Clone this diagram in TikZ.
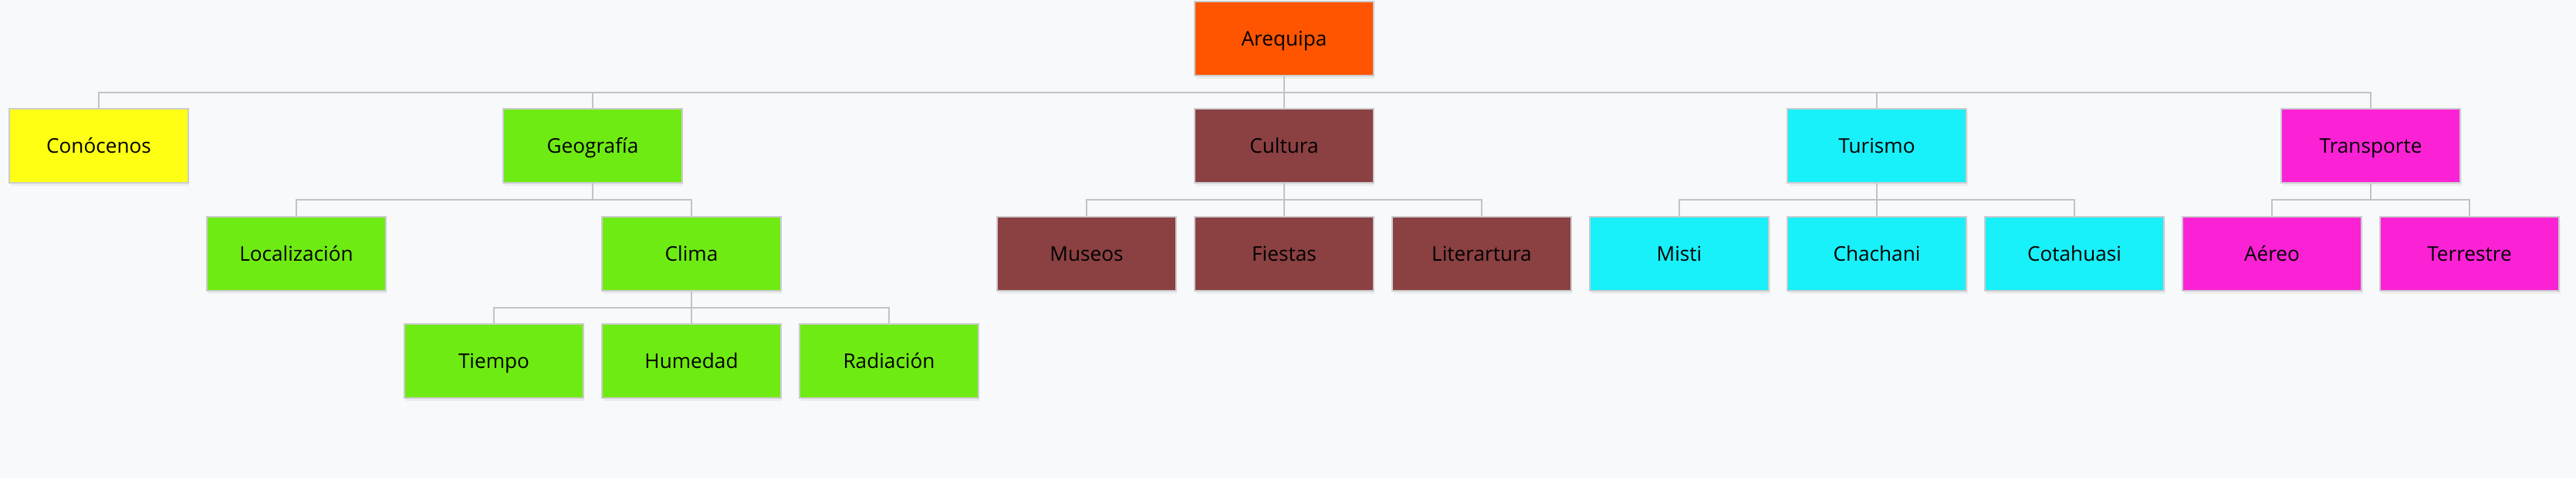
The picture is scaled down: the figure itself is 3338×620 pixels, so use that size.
\documentclass[tikz,border=0pt]{standalone}
\usepackage{fontspec}
\setmainfont{Open Sans}
\usetikzlibrary{shadows}

\definecolor{fondo}{HTML}{F8F9FB}
\definecolor{borde}{HTML}{CCCCCE}
\definecolor{linea}{HTML}{C2C3C6}
\definecolor{naranja}{HTML}{FF5500}
\definecolor{amarillo}{HTML}{FFFF14}
\definecolor{verde}{HTML}{6FEB14}
\definecolor{marron}{HTML}{8B4042}
\definecolor{celeste}{HTML}{18F0FA}
\definecolor{magenta}{HTML}{FB22D6}

\tikzset{
  box/.style={draw=borde, line width=0.04cm, minimum width=4.64cm, minimum height=1.92cm,
    inner sep=0pt, text height=2.4ex, text depth=0.4ex, font=\fontsize{14.9}{17}\selectfont,
    drop shadow={opacity=0.10, shadow xshift=0.03cm, shadow yshift=-0.08cm}},
  link/.style={draw=linea, line width=0.035cm},
}

\begin{document}
\begin{tikzpicture}[x=0.02cm, y=-0.02cm]

\fill [fondo] (0,0) rectangle (3338,620) ;
\useasboundingbox (0,0) rectangle (3338,620) ;

\node [box, fill=naranja] (arequipa) at (1664,50) {Arequipa} ;

\node [box, fill=amarillo] (conocenos) at (128,189) {Conócenos} ;
\node [box, fill=verde] (geografia) at (768,189) {Geografía} ;
\node [box, fill=marron] (cultura) at (1664,189) {Cultura} ;
\node [box, fill=celeste] (turismo) at (2432,189) {Turismo} ;
\node [box, fill=magenta] (transporte) at (3072,189) {Transporte} ;

\node [box, fill=verde] (localizacion) at (384,329) {Localización} ;
\node [box, fill=verde] (clima) at (896,329) {Clima} ;
\node [box, fill=marron] (museos) at (1408,329) {Museos} ;
\node [box, fill=marron] (fiestas) at (1664,329) {Fiestas} ;
\node [box, fill=marron] (literatura) at (1920,329) {Literartura} ;
\node [box, fill=celeste] (misti) at (2176,329) {Misti} ;
\node [box, fill=celeste] (chachani) at (2432,329) {Chachani} ;
\node [box, fill=celeste] (cotahuasi) at (2688,329) {Cotahuasi} ;
\node [box, fill=magenta] (aereo) at (2944,329) {Aéreo} ;
\node [box, fill=magenta] (terrestre) at (3200,329) {Terrestre} ;

\node [box, fill=verde] (tiempo) at (640,468) {Tiempo} ;
\node [box, fill=verde] (humedad) at (896,468) {Humedad} ;
\node [box, fill=verde] (radiacion) at (1152,468) {Radiación} ;

\foreach \hijo in {conocenos,geografia,cultura,turismo,transporte}
  \draw [link] (arequipa.south) -- ++(0,21) -| (\hijo.north) ;
\foreach \hijo in {localizacion,clima}
  \draw [link] (geografia.south) -- ++(0,21) -| (\hijo.north) ;
\foreach \hijo in {museos,fiestas,literatura}
  \draw [link] (cultura.south) -- ++(0,21) -| (\hijo.north) ;
\foreach \hijo in {misti,chachani,cotahuasi}
  \draw [link] (turismo.south) -- ++(0,21) -| (\hijo.north) ;
\foreach \hijo in {aereo,terrestre}
  \draw [link] (transporte.south) -- ++(0,21) -| (\hijo.north) ;
\foreach \hijo in {tiempo,humedad,radiacion}
  \draw [link] (clima.south) -- ++(0,21) -| (\hijo.north) ;

\end{tikzpicture}
\end{document}
